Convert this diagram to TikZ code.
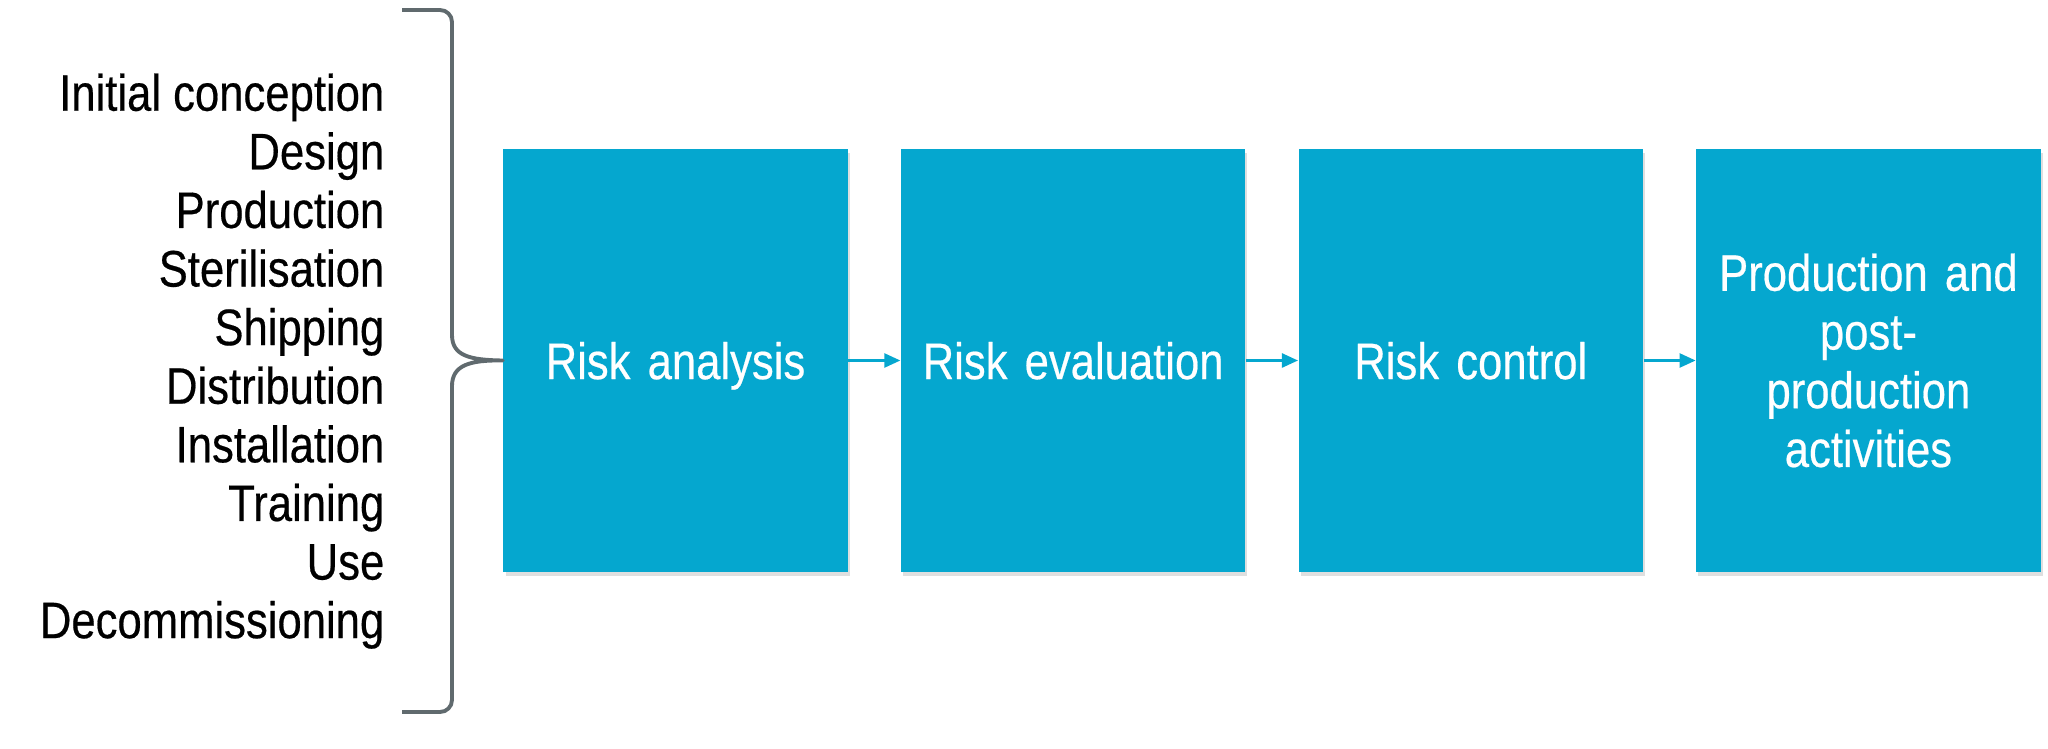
\documentclass[tikz,border=0pt]{standalone}
\usepackage{fontspec}
\setmainfont{Liberation Sans}[FakeStretch=0.85,FakeBold=0.4]
\usepackage{xcolor}
\usetikzlibrary{arrows.meta,positioning,shadows}
\definecolor{RiskBlue}{RGB}{5,167,207}
\definecolor{BraceGrey}{RGB}{96,106,110}
\tikzset{
  riskbox/.style={rectangle, fill=RiskBlue, text=white, minimum width=3.44cm, minimum height=4.23cm,
    text width=3.1cm, align=center, inner sep=0pt, font=\fontsize{14.6}{16.7}\selectfont,
    drop shadow={shadow xshift=0.6pt, shadow yshift=-1.2pt, opacity=0.25}},
  oneline/.style={text depth=0pt},
  stage/.style={anchor=east, inner sep=0pt, font=\fontsize{14.6}{16.7}\selectfont},
  flow/.style={draw=RiskBlue, line width=0.7pt, -{Triangle[length=0.16cm,width=0.14cm]}}
}
\begin{document}
\begin{tikzpicture}[x=0.01cm, y=-0.01cm]
\useasboundingbox (0,0) rectangle (2048,749);
        %draw the life-cycle stages
\foreach \s[count=\c,evaluate={\yi=99+58.6*(\c-1)}] in {Initial conception, Design, Production, Sterilisation, Shipping, Distribution, Installation, Training, Use, Decommissioning}{
    \node[stage] (l\c) at (385,\yi) {\strut\s};
}

%the four process boxes
\node[riskbox, oneline] (ra) at (675.5,360.5) {Risk analysis};
\node[riskbox, oneline, right=0.52cm of ra] (re) {Risk evaluation};
\node[riskbox, oneline, right=0.52cm of re] (rc) {Risk control};
\node[riskbox, right=0.52cm of rc] (pp) {Production and\\post-\\production\\activities};

% draw the arrows between boxes
\draw[flow] (ra) -- (re);
\draw[flow] (re) -- (rc);
\draw[flow] (rc) -- (pp);

%Draw the brace
\draw[BraceGrey, line width=1.1pt, line join=round]
  (402,10) -- (440,10) to[out=0,in=90] (452,22) -- (452,335)
  .. controls (452,356) and (470,360) .. (ra.west)
  .. controls (470,360) and (452,365) .. (452,386) -- (452,700)
  to[out=-90,in=0] (440,712) -- (402,712);
\end{tikzpicture}
\end{document}
